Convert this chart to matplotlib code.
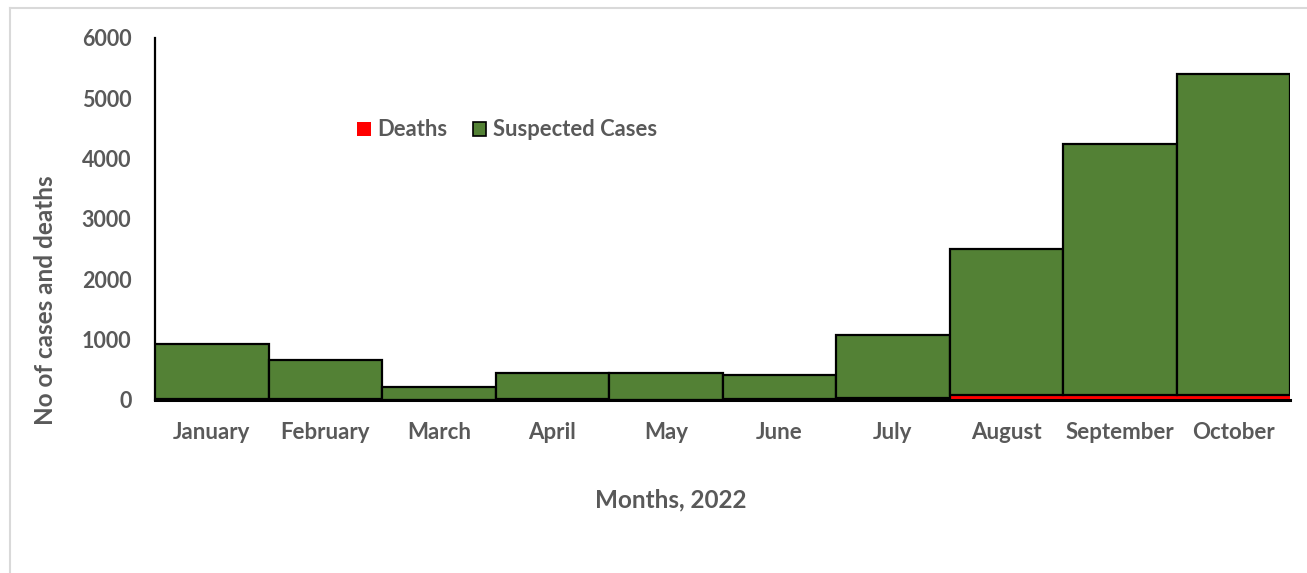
import matplotlib
matplotlib.use("Agg")
import matplotlib.pyplot as plt
from matplotlib.patches import Patch
from matplotlib.lines import Line2D

months = ["January", "February", "March", "April", "May", "June",
          "July", "August", "September", "October"]
suspected_cases = [913, 655, 217, 442, 446, 401, 1040, 2420, 4160, 5320]
deaths = [10, 8, 4, 10, 6, 8, 30, 80, 80, 80]
y_ticks = [0, 1000, 2000, 3000, 4000, 5000, 6000]

plt.rcParams['font.family'] = ['Lato', 'DejaVu Sans']
text_grey = "#595959"
green = "#538135"
red = "#FF0000"

fig = plt.figure(figsize=(13.07, 5.73), dpi=100)
ax = fig.add_axes([0.1186, 0.302, 0.8684, 0.632])

x = list(range(len(months)))
ax.bar(x, deaths, width=1.0, color=red, edgecolor="none", label="Deaths", zorder=2)
ax.bar(x, suspected_cases, width=1.0, bottom=deaths, color=green,
       edgecolor="black", linewidth=1.6, label="Suspected Cases", zorder=3)

ax.set_xlim(-0.5, len(months) - 0.5)
ax.set_ylim(0, 6000)
ax.set_yticks(y_ticks)
ax.set_xticks(x)
ax.set_xticklabels(months)
ax.tick_params(axis="x", length=0, labelsize=16, labelcolor=text_grey, pad=16)
ax.tick_params(axis="y", length=0, labelsize=15.5, labelcolor=text_grey, pad=17)
for lbl in ax.get_xticklabels() + ax.get_yticklabels():
    lbl.set_fontweight("bold")

for side in ("top", "right"):
    ax.spines[side].set_visible(False)
ax.spines["left"].set_linewidth(1.6)
ax.spines["bottom"].set_linewidth(2.2)
ax.spines["bottom"].set_zorder(4)

fig.text(0.035, 0.476, "No of cases and deaths", rotation=90, ha="center", va="center",
         fontsize=17.5, fontweight="bold", color=text_grey)
fig.text(0.513, 0.127, "Months, 2022", ha="center", va="center",
         fontsize=17.5, fontweight="bold", color=text_grey)

handles = [Patch(facecolor=red, edgecolor="none"),
           Patch(facecolor=green, edgecolor="black", linewidth=1.2)]
leg = ax.legend(handles, ["Deaths", "Suspected Cases"], loc="center left",
                bbox_to_anchor=(0.161, 0.746), ncol=2, frameon=False,
                handlelength=0.6, handleheight=0.6,
                handletextpad=0.28, columnspacing=1.2,
                prop={"weight": "bold", "size": 15.8})
for t in leg.get_texts():
    t.set_color(text_grey)

# light frame around the chart area
fig.add_artist(Line2D([0.008, 0.008], [0.0, 0.986], transform=fig.transFigure,
                      color="#d9d9d9", linewidth=1.5))
fig.add_artist(Line2D([0.008, 1.0], [0.986, 0.986], transform=fig.transFigure,
                      color="#d9d9d9", linewidth=1.5))

fig.savefig("out.png", dpi=100, facecolor="white")
